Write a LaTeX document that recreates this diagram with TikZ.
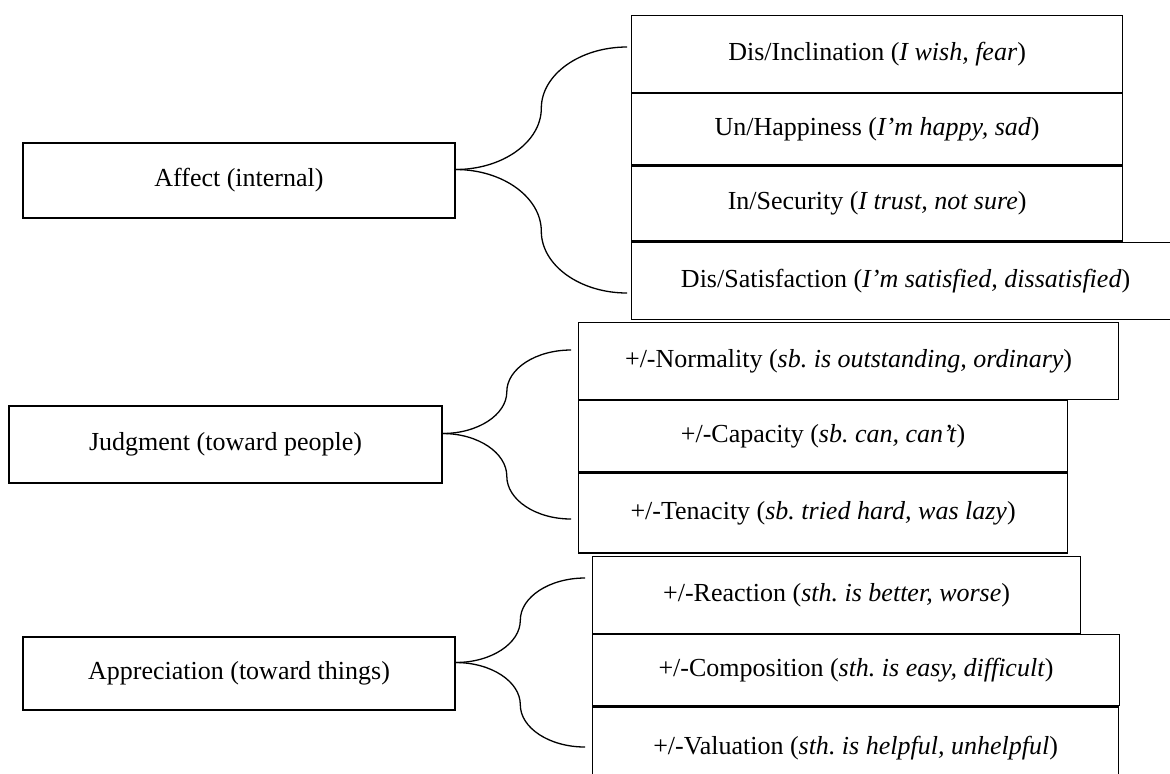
\documentclass[tikz,border=0pt]{standalone}
\usepackage{fontspec}
\setmainfont{Liberation Serif}
\usetikzlibrary{positioning,calc}
\frenchspacing

\begin{document}
\begin{tikzpicture}[
x=0.5pt,
y=-0.5pt,
catbox/.style={
    draw,
    rectangle,
    line width=0.6pt,
    inner sep=0pt,
    align=center,
    font=\fontsize{13}{15}\selectfont
},
subbox/.style={
    catbox,
    anchor=north west
},
brace/.style={
    line width=0.65pt
}
]
\clip (0,0) rectangle (1170,773);

\node[catbox, minimum width=216pt, minimum height=37.5pt] (affect) at (239,180.5)
{Affect (internal)};

\node[subbox, minimum width=245.5pt, minimum height=38.5pt] (incl) at (631,15)
{Dis/Inclination (\textit{I wish, fear})};
\node[subbox, minimum width=245.5pt, minimum height=35.5pt] (happy) at (incl.south west)
{Un/Happiness (\textit{I’m happy, sad})};
\node[subbox, minimum width=245.5pt, minimum height=37.5pt] (secur) at (happy.south west)
{In/Security (\textit{I trust, not sure})};
\node[subbox, minimum width=274pt, minimum height=38.5pt] (satis) at (secur.south west)
{Dis/Satisfaction (\textit{I’m satisfied, dissatisfied})};

\node[catbox, minimum width=216.5pt, minimum height=38.5pt] (judg) at (225.5,444.5)
{Judgment (toward people)};

\node[subbox, minimum width=270pt, minimum height=38.5pt] (norm) at (578,322)
{+/-Normality (\textit{sb. is outstanding, ordinary})};
\node[subbox, minimum width=244.5pt, minimum height=35.5pt] (capac) at (norm.south west)
{+/-Capacity (\textit{sb. can, can’t})};
\node[subbox, minimum width=244.5pt, minimum height=40pt] (tenac) at (capac.south west)
{+/-Tenacity (\textit{sb. tried hard, was lazy})};

\node[catbox, minimum width=216pt, minimum height=36.5pt] (apprec) at (239,673.5)
{Appreciation (toward things)};

\node[subbox, minimum width=244pt, minimum height=38.5pt] (react) at (592,556)
{+/-Reaction (\textit{sth. is better, worse})};
\node[subbox, minimum width=263.5pt, minimum height=35.5pt] (compo) at (react.south west)
{+/-Composition (\textit{sth. is easy, difficult})};
\node[subbox, minimum width=263pt, minimum height=41pt] (valu) at (compo.south west)
{+/-Valuation (\textit{sth. is helpful, unhelpful})};

\coordinate (affU) at (627,47);
\coordinate (affL) at (627,293);
\coordinate (judU) at (571,350);
\coordinate (judL) at (571,519);
\coordinate (appU) at (585,578);
\coordinate (appL) at (585,747);

\foreach \bsrc/\bup/\blow in {affect/affU/affL, judg/judU/judL, apprec/appU/appL} {
  \coordinate (s) at ([yshift=5.5pt]\bsrc.east);
  \foreach \bend in {\bup,\blow} {
    \coordinate (m) at ($(s)!0.5!(\bend)$);
    \draw[brace] (s) .. controls ($(s)!0.55!(s -| m)$) and ($(m)!0.55!(m |- s)$) .. (m)
      .. controls ($(m)!0.55!(m |- \bend)$) and ($(\bend)!0.55!(m |- \bend)$) .. (\bend);
  }
}

\end{tikzpicture}
\end{document}
